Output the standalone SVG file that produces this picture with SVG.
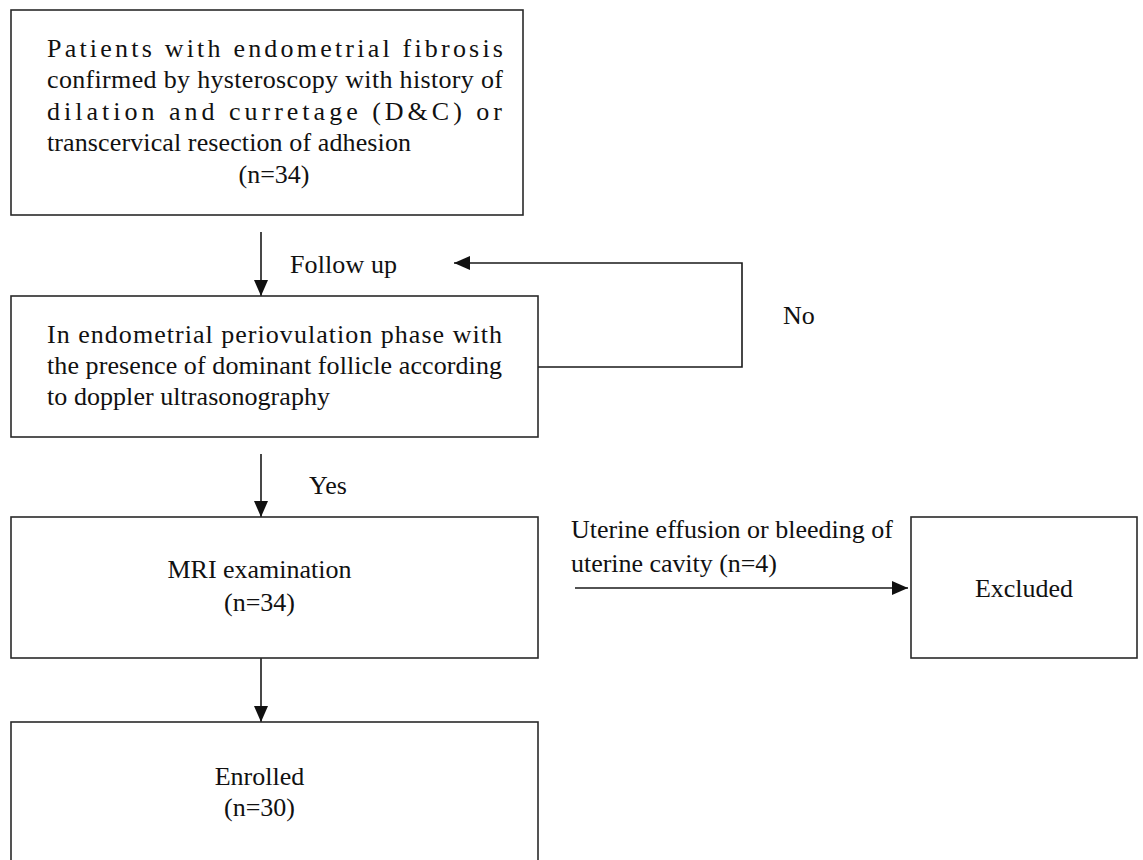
<svg xmlns="http://www.w3.org/2000/svg" width="1143" height="860" viewBox="0 0 1143 860">
  <style>
    .box { fill: #ffffff; stroke: #2a2a2a; stroke-width: 1.6; }
    .conn { fill: none; stroke: #1a1a1a; stroke-width: 1.6; }
    .t { font-family: 'Liberation Serif', 'DejaVu Serif', serif; font-size: 26px; fill: #111111; }
    .mid { text-anchor: middle; }
  </style>
  <defs>
    <marker id="arrow" markerUnits="userSpaceOnUse" markerWidth="16" markerHeight="14" refX="16" refY="7" orient="auto">
      <path d="M0,0 L16,7 L0,14 z" fill="#111111"/>
    </marker>
  </defs>
  <rect width="1143" height="860" fill="#ffffff"/>

  <g id="connectors">
    <line class="conn" x1="261" y1="232" x2="261" y2="296" marker-end="url(#arrow)"/>
    <polyline class="conn" points="538,367 742,367 742,263 454,263" marker-end="url(#arrow)"/>
    <line class="conn" x1="261" y1="454" x2="261" y2="517" marker-end="url(#arrow)"/>
    <line class="conn" x1="575" y1="588" x2="908" y2="588" marker-end="url(#arrow)"/>
    <line class="conn" x1="261" y1="658" x2="261" y2="722" marker-end="url(#arrow)"/>
  </g>

  <g id="labels" class="t" font-family="Liberation Serif, DejaVu Serif, serif">
    <text x="290" y="273" textLength="107">Follow up</text>
    <text x="783" y="324">No</text>
    <text x="309" y="494">Yes</text>
    <text x="571" y="538" textLength="322">Uterine effusion or bleeding of</text>
    <text x="571" y="572" textLength="206">uterine cavity (n=4)</text>
  </g>

  <g id="node-patients" class="t" font-family="Liberation Serif, DejaVu Serif, serif">
    <rect class="box" x="11" y="10" width="512" height="205"/>
    <text x="47" y="57" textLength="456">Patients with endometrial fibrosis</text>
    <text x="47" y="88" textLength="456">confirmed by hysteroscopy with history of</text>
    <text x="47" y="120" textLength="455">dilation and curretage (D&amp;C) or</text>
    <text x="47" y="151" textLength="364">transcervical resection of adhesion</text>
    <text class="mid" x="274" y="183">(n=34)</text>
  </g>

  <g id="node-periovulation" class="t" font-family="Liberation Serif, DejaVu Serif, serif">
    <rect class="box" x="11" y="296" width="527" height="141"/>
    <text x="47" y="343" textLength="455">In endometrial periovulation phase with</text>
    <text x="47" y="374" textLength="455">the presence of dominant follicle according</text>
    <text x="47" y="405" textLength="283">to doppler ultrasonography</text>
  </g>

  <g id="node-mri" class="t" font-family="Liberation Serif, DejaVu Serif, serif">
    <rect class="box" x="11" y="517" width="527" height="141"/>
    <text class="mid" x="259.5" y="578">MRI examination</text>
    <text class="mid" x="259.5" y="611">(n=34)</text>
  </g>

  <g id="node-excluded" class="t" font-family="Liberation Serif, DejaVu Serif, serif">
    <rect class="box" x="911" y="517" width="226" height="141"/>
    <text class="mid" x="1024" y="597">Excluded</text>
  </g>

  <g id="node-enrolled" class="t" font-family="Liberation Serif, DejaVu Serif, serif">
    <rect class="box" x="11" y="722" width="527" height="160"/>
    <text class="mid" x="259.5" y="785">Enrolled</text>
    <text class="mid" x="259.5" y="816">(n=30)</text>
  </g>
</svg>
